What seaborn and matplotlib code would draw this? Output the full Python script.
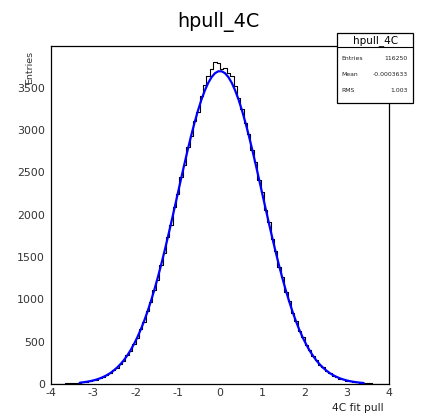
import numpy as np
import pandas as pd
import matplotlib
matplotlib.use("Agg")
import matplotlib.pyplot as plt
from matplotlib.ticker import MultipleLocator
from matplotlib.patches import Rectangle
from matplotlib.lines import Line2D
import seaborn as sns

# ---------------- data ----------------
bin_edges = np.linspace(-4, 4, 101)
bin_centers = 0.5 * (bin_edges[:-1] + bin_edges[1:])

counts_left = [0, 1, 2, 3, 6, 6, 10, 11, 17, 18, 27, 31, 45, 50, 70, 80, 108, 125, 162, 188,
               240, 270, 340, 390, 475, 540, 650, 730, 860, 965, 1110, 1230, 1410, 1545, 1740,
               1880, 2090, 2240, 2450, 2590, 2800, 2930, 3110, 3220, 3400, 3530, 3640, 3720, 3810, 3790]
counts_right = [3720, 3730, 3680, 3640, 3520, 3380, 3250, 3080, 2960, 2760, 2620, 2410, 2270, 2060,
                1910, 1710, 1570, 1380, 1260, 1090, 985, 840, 750, 630, 555, 460, 400, 328, 285, 228,
                196, 152, 131, 100, 86, 64, 55, 40, 34, 24, 21, 14, 12, 8, 7, 4, 4, 2, 2, 1]
counts = counts_left + counts_right

fit_left = [1.5, 2, 3, 4, 5, 7, 9, 12, 15, 20, 26, 33, 42, 53, 67, 84, 104, 128, 158, 192, 232,
            279, 334, 396, 468, 548, 638, 739, 850, 972, 1103, 1245, 1396, 1556, 1723, 1895,
            2072, 2250, 2429, 2605, 2776, 2940, 3093, 3234, 3360, 3468, 3558, 3626, 3673, 3696]
fit_values = fit_left + fit_left[::-1]
fit_range = (-3.34, 3.42)

title = "hpull_4C"
x_label = "4C fit pull"
y_label = "Entries"
stats_labels = ["Entries", "Mean", "RMS"]
stats_values = ["116250", "-0.0003633", "1.003"]

# ---------------- figure ----------------
sns.set_style("white")
plt.rcParams["font.family"] = ["DejaVu Sans"]

W, H = 422, 416
fig = plt.figure(figsize=(W / 100, H / 100), dpi=100)
ax = fig.add_axes([51 / W, 1 - 384 / H, (389 - 51) / W, (384 - 46) / H])

df = pd.DataFrame({"x": bin_centers, "n": counts})
sns.histplot(data=df, x="x", weights="n", binwidth=0.08, binrange=(-4, 4), element="step",
             fill=False, color="black", linewidth=0.8, ax=ax, zorder=2)

fdf = pd.DataFrame({"x": bin_centers, "f": fit_values})
fdf = fdf[(fdf.x >= fit_range[0]) & (fdf.x <= fit_range[1])]
sns.lineplot(data=fdf, x="x", y="f", color=(0, 0, 1), linewidth=1.6, ax=ax, zorder=3)

ax.set_xlim(-4, 4)
ax.set_ylim(0, 3995)
ax.set_xlabel("")
ax.set_ylabel("")

ax.xaxis.set_major_locator(MultipleLocator(1))
ax.xaxis.set_minor_locator(MultipleLocator(0.2))
ax.yaxis.set_major_locator(MultipleLocator(500))
ax.yaxis.set_minor_locator(MultipleLocator(100))
ax.tick_params(which="both", direction="in", top=False, right=False, colors="black",
               labelsize=7.9, width=0.8)
ax.tick_params(which="major", length=7.2, pad=3)
ax.tick_params(which="minor", length=3.6)
ax.tick_params(axis="y", pad=4.3)
ax.set_xticks(np.arange(-4, 5, 1))
ax.set_xticklabels([str(v) for v in range(-4, 5)])
for lbl in ax.get_xticklabels() + ax.get_yticklabels():
    lbl.set_color("#333333")
for sp in ax.spines.values():
    sp.set_color("black")
    sp.set_linewidth(0.9)

# title
fig.text(218 / W, 1 - 26.5 / H, title, ha="center", va="baseline", fontsize=13.8, color="black")
# axis titles
fig.text(384 / W, 1 - 408 / H, x_label, ha="right", va="center", fontsize=7.7, color="#222222")
fig.text(30 / W, 1 - 51 / H, y_label, ha="center", va="top", rotation=90, fontsize=6.8,
         color="#333333")

# stats box
bx0, bx1, by0, by1 = 337, 413, 33, 103
rect = Rectangle((bx0 / W, 1 - by1 / H), (bx1 - bx0) / W, (by1 - by0) / H,
                 transform=fig.transFigure, facecolor="white", edgecolor="black",
                 linewidth=0.9, zorder=10)
fig.patches.append(rect)
sep_y = 1 - 46.5 / H
fig.lines.append(Line2D([bx0 / W, bx1 / W], [sep_y, sep_y], transform=fig.transFigure,
                        color="black", linewidth=0.8, zorder=11))
fig.text(375.5 / W, 1 - 40.5 / H, title, ha="center", va="center", fontsize=7.5, zorder=12,
         color="black")
row_y = [58, 74, 90]
for lab, val, yy in zip(stats_labels, stats_values, row_y):
    fig.text(341.5 / W, 1 - yy / H, lab, ha="left", va="center", fontsize=4.4, zorder=12,
             color="#222222")
    fig.text(407.5 / W, 1 - yy / H, val, ha="right", va="center", fontsize=4.4, zorder=12,
             color="#222222")

fig.savefig("out.png", dpi=100, facecolor="white")
